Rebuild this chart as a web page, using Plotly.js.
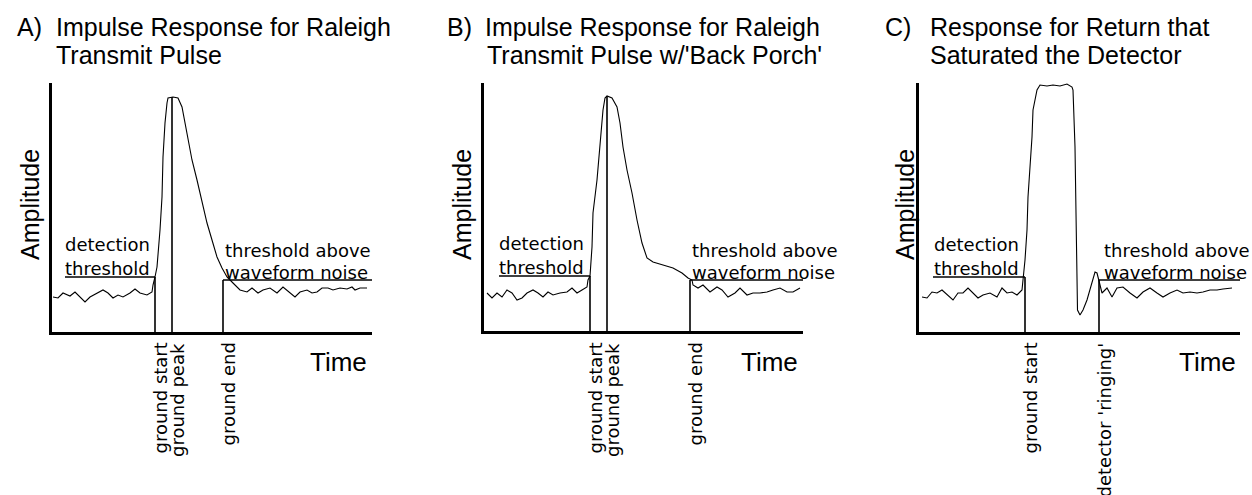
<!DOCTYPE html>
<html><head><meta charset="utf-8">
<script src="https://cdn.plot.ly/plotly-3.0.1.min.js"></script>
<style>html,body{margin:0;padding:0;background:#fff}#chart{width:1252px;height:495px}</style>
</head><body><div id="chart"></div>
<script>
// ---------- DATA (time / amplitude in arbitrary units) ----------
const timeA = [1,6,11,18,23,28,33,38,45,51,56,61,66,71,78,83,88,95,100,101,103,105,108,110,111,113,115,116,121,126,130,133,136,140,145,150,155,160,165,170,175,181,186,188,195,200,206,211,218,225,231,238,243,248,255,260,265,270,276,281,288,295,300,303,308,315];
const ampA  = [35,34,39,36,40,35,30,35,39,42,39,34,37,35,39,43,39,37,40,47,55,65,102,135,175,209,229,234,235,234,225,209,192,172,152,129,109,92,75,64,55,49,44,42,40,44,39,42,44,39,45,39,35,40,42,39,40,44,44,42,44,43,45,42,44,44];

const timeB = [3,8,13,18,23,28,33,38,43,49,54,59,64,69,76,83,88,93,98,103,104,106,108,109,113,116,119,121,123,128,133,136,139,143,148,153,158,163,169,179,189,198,204,208,209,214,219,226,233,238,244,251,256,263,269,276,283,289,296,303,309,316];
const ampB  = [38,33,38,34,41,38,31,33,38,41,38,34,39,36,38,39,43,38,41,44,51,55,84,118,151,191,221,233,235,233,224,208,184,161,138,111,88,73,69,66,63,58,53,51,46,43,46,39,44,41,34,38,43,36,38,38,39,41,43,39,39,43];

const timeC = [3,8,13,18,23,28,34,39,44,49,54,59,64,71,78,83,88,93,98,103,104,106,108,109,111,113,114,118,121,128,134,141,148,153,154,156,157,158,158.5,161,164,168,171,174,176,178,180,183,188,193,198,204,211,218,224,231,238,244,251,258,264,271,278,284,291,298,304,313];
const ampC  = [35,34,40,39,42,37,32,39,39,44,39,34,37,39,35,44,39,40,37,42,52,72,102,135,165,195,222,242,247,246,247,246,248,245,242,185,119,52,22,17,22,32,42,54,60,59,52,39,44,35,44,45,39,34,40,44,39,35,39,42,39,40,39,40,42,42,43,44];

// detection thresholds: [start, end] times and level
const threshLeftA = [13,103], threshLeftLevelA = 55, threshRightA = [171,320], threshRightLevelA = 52;
const threshLeftB = [15,106], threshLeftLevelB = 55, threshRightB = [206,319], threshRightLevelB = 51;
const threshLeftC = [14,106], threshLeftLevelC = 55, threshRightC = [180,321], threshRightLevelC = 52;

// event markers
const markerTimeA = [103,120,171], markerTopA = [55,235,52], markerLabelA = ['ground start','ground peak','ground end'];
const markerTimeB = [106,123,206], markerTopB = [55,235,51], markerLabelB = ['ground start','ground peak','ground end'];
const markerTimeC = [106,180],     markerTopC = [55,52],     markerLabelC = ['ground start',"detector 'ringing'"];

// texts
const titlePrefix = ['A)','B)','C)'];
const titleLine1 = ['Impulse Response for Raleigh','Impulse Response for Raleigh','Response for Return that'];
const titleLine2 = ['Transmit Pulse',"Transmit Pulse w/'Back Porch'",'Saturated the Detector'];
const leftNote = ['detection','threshold'];
const rightNote = ['threshold above','waveform noise'];
const xLabel = 'Time', yLabel = 'Amplitude';

// ---------- LAYOUT ----------
const W = 1252, H = 495;
const px = x => x / W, py = y => 1 - y / H;
const BIG = 'Liberation Sans, Arial, Helvetica, sans-serif';
const SMALL = 'DejaVu Sans, Liberation Sans, Arial, sans-serif';

const panels = [
  {t: timeA, a: ampA, tl: threshLeftA, tll: threshLeftLevelA, tr: threshRightA, trl: threshRightLevelA,
   mt: markerTimeA, mtop: markerTopA, ml: markerLabelA,
   box: [52, 372, 83, 332], xr: [0,320], yr: [0,249],
   title: [15, 54, 54], amp: 30, time: 338, leftNoteT: 11, rightNoteT: 171},
  {t: timeB, a: ampB, tl: threshLeftB, tll: threshLeftLevelB, tr: threshRightB, trl: threshRightLevelB,
   mt: markerTimeB, mtop: markerTopB, ml: markerLabelB,
   box: [484, 803, 83, 331], xr: [0,319], yr: [0,248],
   title: [445, 483, 485], amp: 462, time: 769, leftNoteT: 13, rightNoteT: 206},
  {t: timeC, a: ampC, tl: threshLeftC, tll: threshLeftLevelC, tr: threshRightC, trl: threshRightLevelC,
   mt: markerTimeC, mtop: markerTopC, ml: markerLabelC,
   box: [919, 1240, 83, 332], xr: [0,321], yr: [0,249],
   title: [883, 928, 928], amp: 905, time: 1207, leftNoteT: 13, rightNoteT: 183}
];

const traces = [];
const annotations = [];
const layout = {
  width: W, height: H, margin: {l:0, r:0, t:0, b:0},
  paper_bgcolor: '#fff', plot_bgcolor: '#fff', showlegend: false,
  font: {family: BIG, color: '#000'}
};

panels.forEach((p, i) => {
  const sfx = i === 0 ? '' : String(i + 1);
  const xa = 'x' + sfx, ya = 'y' + sfx;
  const axBase = {showline: true, linewidth: 3, linecolor: '#000', showgrid: false, zeroline: false,
                  showticklabels: false, ticks: '', fixedrange: true};
  layout['xaxis' + sfx] = Object.assign({}, axBase, {domain: [px(p.box[0]), px(p.box[1])], range: p.xr, anchor: ya});
  layout['yaxis' + sfx] = Object.assign({}, axBase, {domain: [py(p.box[3]), py(p.box[2])], range: p.yr, anchor: xa});

  // waveform
  traces.push({x: p.t, y: p.a, xaxis: xa, yaxis: ya, type: 'scatter', mode: 'lines',
               line: {color: '#000', width: 1.1}, hoverinfo: 'skip'});
  // thresholds
  traces.push({x: p.tl, y: [p.tll, p.tll], xaxis: xa, yaxis: ya, mode: 'lines',
               line: {color: '#000', width: 1.6}, hoverinfo: 'skip'});
  traces.push({x: p.tr, y: [p.trl, p.trl], xaxis: xa, yaxis: ya, mode: 'lines',
               line: {color: '#000', width: 1.6}, hoverinfo: 'skip'});
  // event markers
  const mx = [], my = [];
  p.mt.forEach((t, k) => { mx.push(t, t, null); my.push(0, p.mtop[k], null); });
  traces.push({x: mx, y: my, xaxis: xa, yaxis: ya, mode: 'lines',
               line: {color: '#000', width: 1.6}, hoverinfo: 'skip'});
  p.mt.forEach((t, k) => {
    annotations.push({text: p.ml[k], xref: xa, x: t, yref: 'paper', y: py(341),
      xanchor: 'center', yanchor: 'top', xshift: 5, textangle: -90, showarrow: false,
      font: {size: 18, family: SMALL, color: '#000'}});
  });

  // titles
  annotations.push({text: titlePrefix[i], xref: 'paper', x: px(p.title[0]), yref: 'paper', y: py(27),
    xanchor: 'left', yanchor: 'middle', showarrow: false, font: {size: 25, family: BIG}});
  annotations.push({text: titleLine1[i], xref: 'paper', x: px(p.title[1]), yref: 'paper', y: py(27),
    xanchor: 'left', yanchor: 'middle', showarrow: false, font: {size: 25, family: BIG}});
  annotations.push({text: titleLine2[i], xref: 'paper', x: px(p.title[2]), yref: 'paper', y: py(55),
    xanchor: 'left', yanchor: 'middle', showarrow: false, font: {size: 25, family: BIG}});

  // axis labels
  annotations.push({text: yLabel, xref: 'paper', x: px(p.amp), yref: 'paper', y: py(205),
    xanchor: 'center', yanchor: 'middle', textangle: -90, showarrow: false, font: {size: 25, family: BIG}});
  annotations.push({text: xLabel, xref: 'paper', x: px(p.time), yref: 'paper', y: py(362),
    xanchor: 'center', yanchor: 'middle', showarrow: false, font: {size: 26, family: BIG}});

  // notes
  annotations.push({text: leftNote[0], xref: xa, x: p.leftNoteT, yref: ya, y: p.tll + 33,
    xanchor: 'left', yanchor: 'middle', showarrow: false, font: {size: 18, family: SMALL}});
  annotations.push({text: leftNote[1], xref: xa, x: p.leftNoteT, yref: ya, y: p.tll + 9,
    xanchor: 'left', yanchor: 'middle', showarrow: false, font: {size: 18, family: SMALL}});
  annotations.push({text: rightNote[0], xref: xa, x: p.rightNoteT, yref: ya, y: p.trl + 30,
    xanchor: 'left', yanchor: 'middle', showarrow: false, font: {size: 18, family: SMALL}});
  annotations.push({text: rightNote[1], xref: xa, x: p.rightNoteT, yref: ya, y: p.trl + 8,
    xanchor: 'left', yanchor: 'middle', showarrow: false, font: {size: 18, family: SMALL}});
});

layout.annotations = annotations;
Plotly.newPlot('chart', traces, layout, {displayModeBar: false, staticPlot: true});
</script>
</body></html>
